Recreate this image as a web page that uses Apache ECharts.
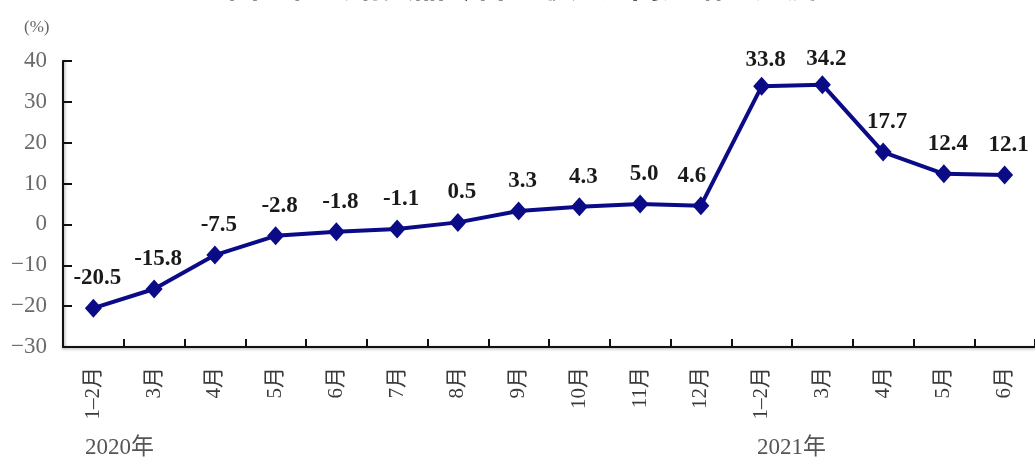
<!DOCTYPE html>
<html>
<head>
<meta charset="utf-8">
<script src="https://cdn.jsdelivr.net/npm/echarts@6/dist/echarts.min.js"></script>
<style>
  html, body { margin: 0; padding: 0; background: #fff; }
  #chart { width: 1035px; height: 459px; }
</style>
</head>
<body>
<div id="chart"></div>
<script>
// Monthly year-on-year growth of retail sales, 2020-01/02 to 2021-06 (%)
const categories = ['1–2月', '3月', '4月', '5月', '6月', '7月', '8月', '9月', '10月', '11月', '12月',
                    '1–2月', '3月', '4月', '5月', '6月'];
const growth = [-20.5, -15.8, -7.5, -2.8, -1.8, -1.1, 0.5, 3.3, 4.3, 5.0, 4.6,
                33.8, 34.2, 17.7, 12.4, 12.1];
const yearLabels = ['2020年', '2021年'];
const titleText = '图2  社会消费品零售总额分月同比增长速度';
const unitText = '(%)';

const serif = '"Liberation Serif", "Times New Roman", "Noto Sans CJK SC", serif';
const lineColor = '#0b0b88';

const chart = echarts.init(document.getElementById('chart'));

const seriesData = growth.map(function (v, i) {
  const next = growth[i + 1];
  if (v > 30) {
    // the two peak labels sit a little closer to their points
    return { value: v, label: { distance: 5 } };
  }
  if (next !== undefined && next - v > 20) {
    // keep the label clear of a steep rising segment
    return { value: v, label: { offset: [-9, 0] } };
  }
  return v;
});

chart.setOption({
  animation: false,
  backgroundColor: '#ffffff',
  grid: { left: 63, right: 0, top: 61, bottom: 112, containLabel: false },
  xAxis: {
    type: 'category',
    data: categories,
    boundaryGap: true,
    axisLine: { onZero: false, lineStyle: { color: '#111', width: 2, shadowColor: 'rgba(0,0,0,0.35)', shadowBlur: 3, shadowOffsetY: 1 } },
    axisTick: { show: true, inside: true, length: 8, lineStyle: { color: '#111', width: 2 } },
    axisLabel: {
      rotate: 90,
      margin: 20,
      interval: 0,
      color: '#3a3a3a',
      fontSize: 21,
      fontFamily: serif
    },
    splitLine: { show: false }
  },
  yAxis: {
    type: 'value',
    min: -30,
    max: 40,
    interval: 10,
    axisLine: { show: true, lineStyle: { color: '#111', width: 2, shadowColor: 'rgba(0,0,0,0.35)', shadowBlur: 3, shadowOffsetX: 1 } },
    axisTick: { show: true, inside: true, length: 9, lineStyle: { color: '#111', width: 2 } },
    axisLabel: {
      margin: 16,
      color: '#6a6a6a',
      fontSize: 23,
      fontFamily: serif,
      formatter: function (v) { return v < 0 ? '−' + Math.abs(v) : String(v); }
    },
    splitLine: { show: false }
  },
  series: [{
    type: 'line',
    data: seriesData,
    symbol: 'diamond',
    symbolSize: [17, 19],
    itemStyle: { color: lineColor },
    lineStyle: { color: lineColor, width: 4 },
    label: {
      show: true,
      position: 'top',
      distance: 9,
      offset: [4, 0],
      color: '#1a1a1a',
      fontSize: 23,
      fontWeight: 'bold',
      fontFamily: serif,
      formatter: function (p) { return p.value.toFixed(1); }
    }
  }],
  graphic: [
    {
      type: 'text', left: 228, top: -27,
      style: { text: titleText, fontSize: 31, fontWeight: 'bold', fill: '#222', fontFamily: serif }
    },
    {
      type: 'text', left: 24, top: 19,
      style: { text: unitText, fontSize: 17, fill: '#666', fontFamily: serif }
    },
    {
      type: 'text', left: 85, top: 436,
      style: { text: yearLabels[0], fontSize: 23, fill: '#555', fontFamily: serif }
    },
    {
      type: 'text', left: 757, top: 436,
      style: { text: yearLabels[1], fontSize: 23, fill: '#555', fontFamily: serif }
    }
  ]
});
</script>
</body>
</html>
